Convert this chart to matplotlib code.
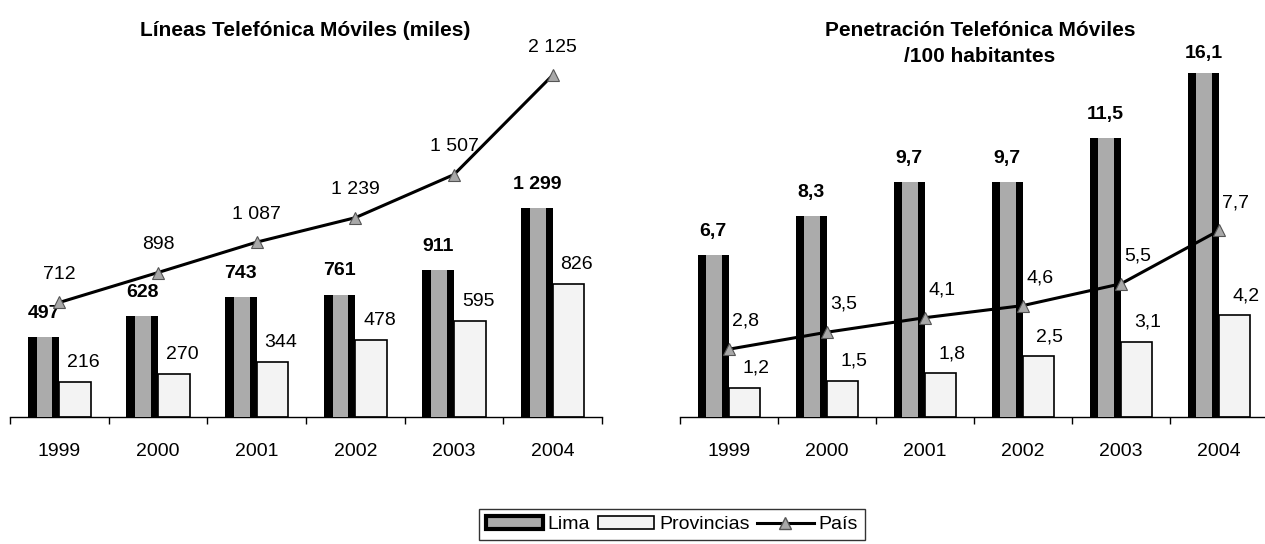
import numpy as np
import matplotlib
matplotlib.use("Agg")
import matplotlib.pyplot as plt
from matplotlib.patches import Patch
from matplotlib.lines import Line2D

plt.rcParams['font.family'] = ['Liberation Sans', 'DejaVu Sans']

# datos
years = ['1999', '2000', '2001', '2002', '2003', '2004']
lineas_lima = [497, 628, 743, 761, 911, 1299]
lineas_prov = [216, 270, 344, 478, 595, 826]
lineas_pais = [712, 898, 1087, 1239, 1507, 2125]
pen_lima = [6.7, 8.3, 9.7, 9.7, 11.5, 16.1]
pen_prov = [1.2, 1.5, 1.8, 2.5, 3.1, 4.2]
pen_pais = [2.8, 3.5, 4.1, 4.6, 5.5, 7.7]

W, H = 1265, 544
fig = plt.figure(figsize=(W / 100, H / 100), dpi=100)

def fmt_miles(v):
    return f"{v:,}".replace(",", " ")

def fmt_dec(v):
    return f"{v:.1f}".replace(".", ",")

def draw(ax, lima, prov, pais, ymax, fmt, pais_off, prov_off):
    x = np.arange(len(years))
    w = 0.32
    ax.bar(x - w / 2, lima, w, color='black', zorder=2)
    ax.bar(x - w / 2 + 0.01, lima, w * 0.5, color='#ababab', zorder=3)
    ax.bar(x + w / 2, prov, w, color='#f3f3f3', edgecolor='black', linewidth=1.2, zorder=2)
    ax.plot(x, pais, color='black', lw=2.2, marker='^', ms=8,
            mfc='#a8a8a8', mec='#555555', mew=0.8, zorder=5, clip_on=False)

    for xi, v in zip(x, lima):
        ax.annotate(fmt(v), (xi - w / 2, min(v, ymax)), xytext=(0, 14 if v > ymax else 17),
                    textcoords='offset points', ha='center', va='center',
                    fontsize=14, fontweight='bold', annotation_clip=False)
    for xi, v in zip(x, prov):
        ax.annotate(fmt(v), (xi + w / 2, v), xytext=prov_off,
                    textcoords='offset points', ha='center', va='center', fontsize=14)
    for xi, v in zip(x, pais):
        ax.annotate(fmt(v), (xi, v), xytext=pais_off,
                    textcoords='offset points', ha='center', va='center', fontsize=14)

    ax.set_xlim(-0.5, len(years) - 0.5)
    ax.set_ylim(0, ymax)
    for s in ['top', 'right', 'left']:
        ax.spines[s].set_visible(False)
    ax.spines['bottom'].set_linewidth(1.0)
    ax.set_yticks([])
    ax.set_xticks(x)
    ax.set_xticklabels(years, fontsize=14)
    ax.tick_params(axis='x', length=0, pad=19)
    ax.set_xticks(np.arange(-0.5, len(years), 1.0), minor=True)
    ax.tick_params(axis='x', which='minor', length=5, width=1, direction='out')
    ax.set_facecolor('none')

bottom = (H - 417) / H

ax1 = fig.add_axes([10 / W, bottom, 592 / W, 370 / H])
draw(ax1, lineas_lima, lineas_prov, lineas_pais, 2300, fmt_miles, (0, 20), (6, 14))
fig.text(305 / W, 1 - 30 / H, 'Líneas Telefónica Móviles (miles)', ha='center', va='center',
         fontsize=15, fontweight='bold')

ax2 = fig.add_axes([680 / W, bottom, 588 / W, 344 / H])
draw(ax2, pen_lima, pen_prov, pen_pais, 14.2, fmt_dec, (12, 20), (8, 14))
fig.text(980 / W, 1 - 31 / H, 'Penetración Telefónica Móviles', ha='center', va='center',
         fontsize=15, fontweight='bold')
fig.text(980 / W, 1 - 56 / H, '/100 habitantes', ha='center', va='center',
         fontsize=15, fontweight='bold')

handles = [Patch(facecolor='#ababab', edgecolor='black', linewidth=3),
           Patch(facecolor='#f3f3f3', edgecolor='black', linewidth=1.2),
           Line2D([], [], color='black', lw=2.2, marker='^', ms=8, mfc='#a8a8a8', mec='#555555')]
leg = fig.legend(handles, ['Lima', 'Provincias', 'País'], loc='center',
                 bbox_to_anchor=(672 / W, (H - 524.5) / H), ncol=3, fontsize=14,
                 frameon=True, fancybox=False, edgecolor='black', handlelength=2.9,
                 handletextpad=0.25, columnspacing=0.4, borderpad=0.35)
leg.get_frame().set_linewidth(1.0)

fig.savefig('out.png', dpi=100)
